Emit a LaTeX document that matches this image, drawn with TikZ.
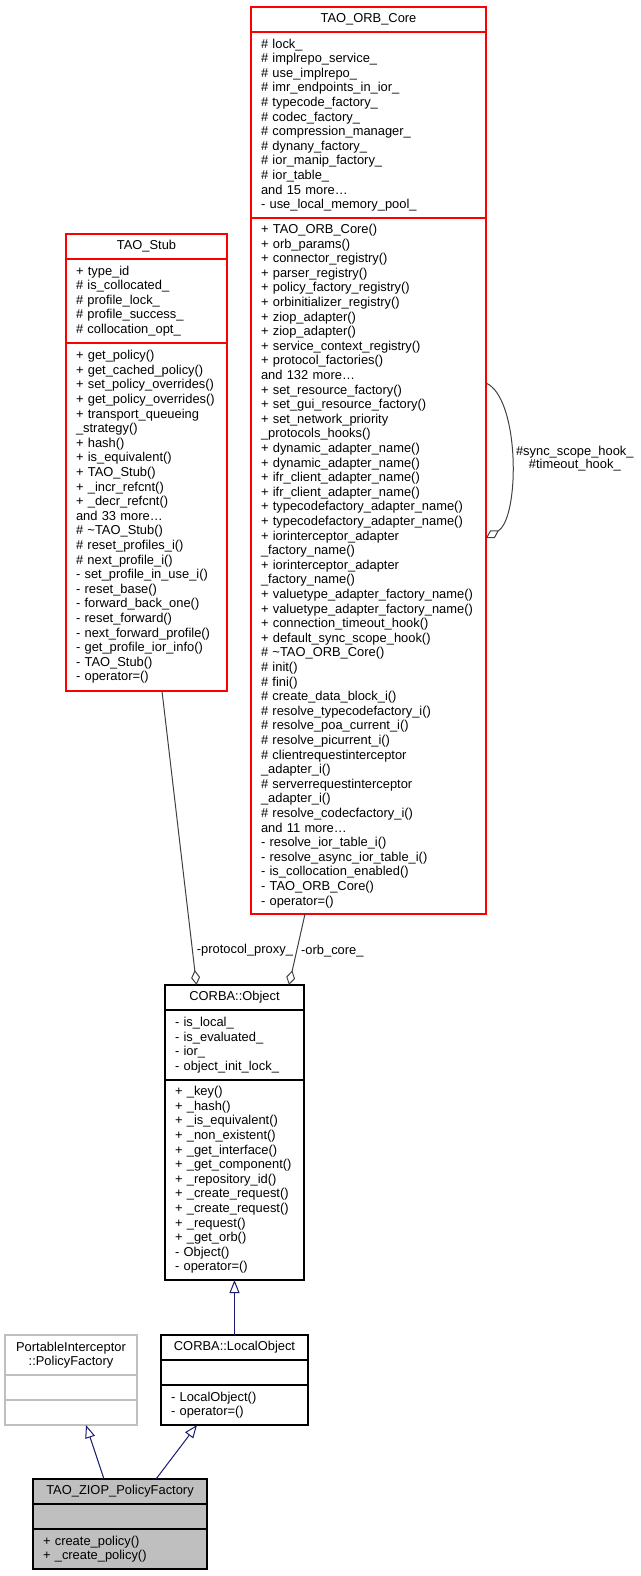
\documentclass[tikz,border=0pt]{standalone}
\usepackage{fontspec}
\setmainfont{Liberation Sans}
\usepackage{tikz}
\usetikzlibrary{positioning,arrows.meta}

\definecolor{dxred}{HTML}{FF0000}
\definecolor{dxgrey}{HTML}{BFBFBF}
\definecolor{dxedge}{HTML}{404040}
\definecolor{dxblue}{HTML}{191970}
\newcommand{\umlfont}{\fontsize{12.9}{14.6}\selectfont\hyphenpenalty=10000\exhyphenpenalty=10000}

\tikzset{
  uml/.style={draw=black, fill=white, line width=1.2pt, outer sep=0pt, font=\umlfont},
  classname/.style={uml, align=center, inner sep=0pt, minimum height=25pt},
  members/.style={uml, align=left, inner xsep=10pt, inner ysep=0pt},
  truncated/.style={draw=dxred},
  undocumented/.style={draw=dxgrey},
  mainclass/.style={fill=dxgrey},
  assoc/.style={draw=dxedge, line width=1pt, -{Diamond[open, length=15pt, width=9pt]}},
  inherit/.style={draw=dxblue, line width=1pt, {Triangle[open, length=13pt, width=10pt]}-},
  edgelabel/.style={font=\umlfont, inner sep=4pt},
}

\begin{document}
\begin{tikzpicture}[x=1pt, y=-1pt]
    \useasboundingbox (0,0) rectangle (640,1576);

    % TAO_ORB_Core
    \node[classname, truncated, minimum width=235pt, anchor=north west] (core) at (251,7) {TAO\_ORB\_Core};
    \node[members, truncated, text width=215pt, minimum height=186pt, below=0pt of core] (core-a) {\#~lock\_\\
\#~implrepo\_service\_\\
\#~use\_implrepo\_\\
\#~imr\_endpoints\_in\_ior\_\\
\#~typecode\_factory\_\\
\#~codec\_factory\_\\
\#~compression\_manager\_\\
\#~dynany\_factory\_\\
\#~ior\_manip\_factory\_\\
\#~ior\_table\_\\
and 15 more\ldots\\
-~use\_local\_memory\_pool\_};
    \node[members, truncated, text width=215pt, minimum height=696pt, below=0pt of core-a] (core-m) {+~TAO\_ORB\_Core()\\
+~orb\_params()\\
+~connector\_registry()\\
+~parser\_registry()\\
+~policy\_factory\_registry()\\
+~orbinitializer\_registry()\\
+~ziop\_adapter()\\
+~ziop\_adapter()\\
+~service\_context\_registry()\\
+~protocol\_factories()\\
and 132 more\ldots\\
+~set\_resource\_factory()\\
+~set\_gui\_resource\_factory()\\
+~set\_network\_priority\\
\_protocols\_hooks()\\
+~dynamic\_adapter\_name()\\
+~dynamic\_adapter\_name()\\
+~ifr\_client\_adapter\_name()\\
+~ifr\_client\_adapter\_name()\\
+~typecodefactory\_adapter\_name()\\
+~typecodefactory\_adapter\_name()\\
+~iorinterceptor\_adapter\\
\_factory\_name()\\
+~iorinterceptor\_adapter\\
\_factory\_name()\\
+~valuetype\_adapter\_factory\_name()\\
+~valuetype\_adapter\_factory\_name()\\
+~connection\_timeout\_hook()\\
+~default\_sync\_scope\_hook()\\
\#~\textasciitilde TAO\_ORB\_Core()\\
\#~init()\\
\#~fini()\\
\#~create\_data\_block\_i()\\
\#~resolve\_typecodefactory\_i()\\
\#~resolve\_poa\_current\_i()\\
\#~resolve\_picurrent\_i()\\
\#~clientrequestinterceptor\\
\_adapter\_i()\\
\#~serverrequestinterceptor\\
\_adapter\_i()\\
\#~resolve\_codecfactory\_i()\\
and 11 more\ldots\\
-~resolve\_ior\_table\_i()\\
-~resolve\_async\_ior\_table\_i()\\
-~is\_collocation\_enabled()\\
-~TAO\_ORB\_Core()\\
-~operator=()};

    % TAO_Stub
    \node[classname, truncated, minimum width=161pt, anchor=north west] (stub) at (66,234) {TAO\_Stub};
    \node[members, truncated, text width=141pt, minimum height=84pt, below=0pt of stub] (stub-a) {+~type\_id\\
\#~is\_collocated\_\\
\#~profile\_lock\_\\
\#~profile\_success\_\\
\#~collocation\_opt\_};
    \node[members, truncated, text width=141pt, minimum height=348pt, below=0pt of stub-a] (stub-m) {+~get\_policy()\\
+~get\_cached\_policy()\\
+~set\_policy\_overrides()\\
+~get\_policy\_overrides()\\
+~transport\_queueing\\
\_strategy()\\
+~hash()\\
+~is\_equivalent()\\
+~TAO\_Stub()\\
+~\_incr\_refcnt()\\
+~\_decr\_refcnt()\\
and 33 more\ldots\\
\#~\textasciitilde TAO\_Stub()\\
\#~reset\_profiles\_i()\\
\#~next\_profile\_i()\\
-~set\_profile\_in\_use\_i()\\
-~reset\_base()\\
-~forward\_back\_one()\\
-~reset\_forward()\\
-~next\_forward\_profile()\\
-~get\_profile\_ior\_info()\\
-~TAO\_Stub()\\
-~operator=()};

    % CORBA::Object
    \node[classname, minimum width=139pt, anchor=north west] (obj) at (165,985) {CORBA::Object};
    \node[members, text width=119pt, minimum height=70pt, below=0pt of obj] (obj-a) {-~is\_local\_\\
-~is\_evaluated\_\\
-~ior\_\\
-~object\_init\_lock\_};
    \node[members, text width=119pt, minimum height=200pt, below=0pt of obj-a] (obj-m) {+~\_key()\\
+~\_hash()\\
+~\_is\_equivalent()\\
+~\_non\_existent()\\
+~\_get\_interface()\\
+~\_get\_component()\\
+~\_repository\_id()\\
+~\_create\_request()\\
+~\_create\_request()\\
+~\_request()\\
+~\_get\_orb()\\
-~Object()\\
-~operator=()};

    % CORBA::LocalObject
    \node[classname, minimum width=147pt, anchor=north west] (local) at (161,1335) {CORBA::LocalObject};
    \node[members, text width=127pt, minimum height=25pt, below=0pt of local] (local-a) {};
    \node[members, text width=127pt, minimum height=40pt, below=0pt of local-a] (local-m) {-~LocalObject()\\
-~operator=()};

    % PortableInterceptor::PolicyFactory
    \node[classname, undocumented, minimum width=132pt, minimum height=40pt, anchor=north west] (pf) at (5,1335) {PortableInterceptor\\::PolicyFactory};
    \node[members, undocumented, text width=112pt, minimum height=25pt, below=0pt of pf] (pf-a) {};
    \node[members, undocumented, text width=112pt, minimum height=25pt, below=0pt of pf-a] (pf-m) {};

    % TAO_ZIOP_PolicyFactory
    \node[classname, mainclass, minimum width=174pt, anchor=north west] (ziop) at (33,1479) {TAO\_ZIOP\_PolicyFactory};
    \node[members, mainclass, text width=154pt, minimum height=25pt, below=0pt of ziop] (ziop-a) {};
    \node[members, mainclass, text width=154pt, minimum height=40pt, below=0pt of ziop-a] (ziop-m) {+~create\_policy()\\
+~\_create\_policy()};

    % collaboration
    \draw[assoc] ([xshift=15.5pt]stub-m.south) -- node[pos=0.88, right, edgelabel] {-protocol\_proxy\_} ([xshift=-38pt]obj.north);
    \draw[assoc] ([xshift=-63.5pt]core-m.south) -- node[pos=0.52, right, edgelabel] {-orb\_core\_} ([xshift=54.5pt]obj.north);
    \draw[assoc] ([yshift=183pt]core-m.east) .. controls +(34,15) and +(34,-20) .. node[right, edgelabel, align=center, font=\fontsize{12.9}{12.5}\selectfont] {\#sync\_scope\_hook\_\\\#timeout\_hook\_} ([yshift=28pt]core-m.east);

    % inheritance
    \draw[inherit] (obj-m.south) -- (local.north);
    \draw[inherit] ([xshift=15pt]pf-m.south) -- ([xshift=-16pt]ziop.north);
    \draw[inherit] ([xshift=-37.5pt]local-m.south) -- ([xshift=36pt]ziop.north);
\end{tikzpicture}
\end{document}
